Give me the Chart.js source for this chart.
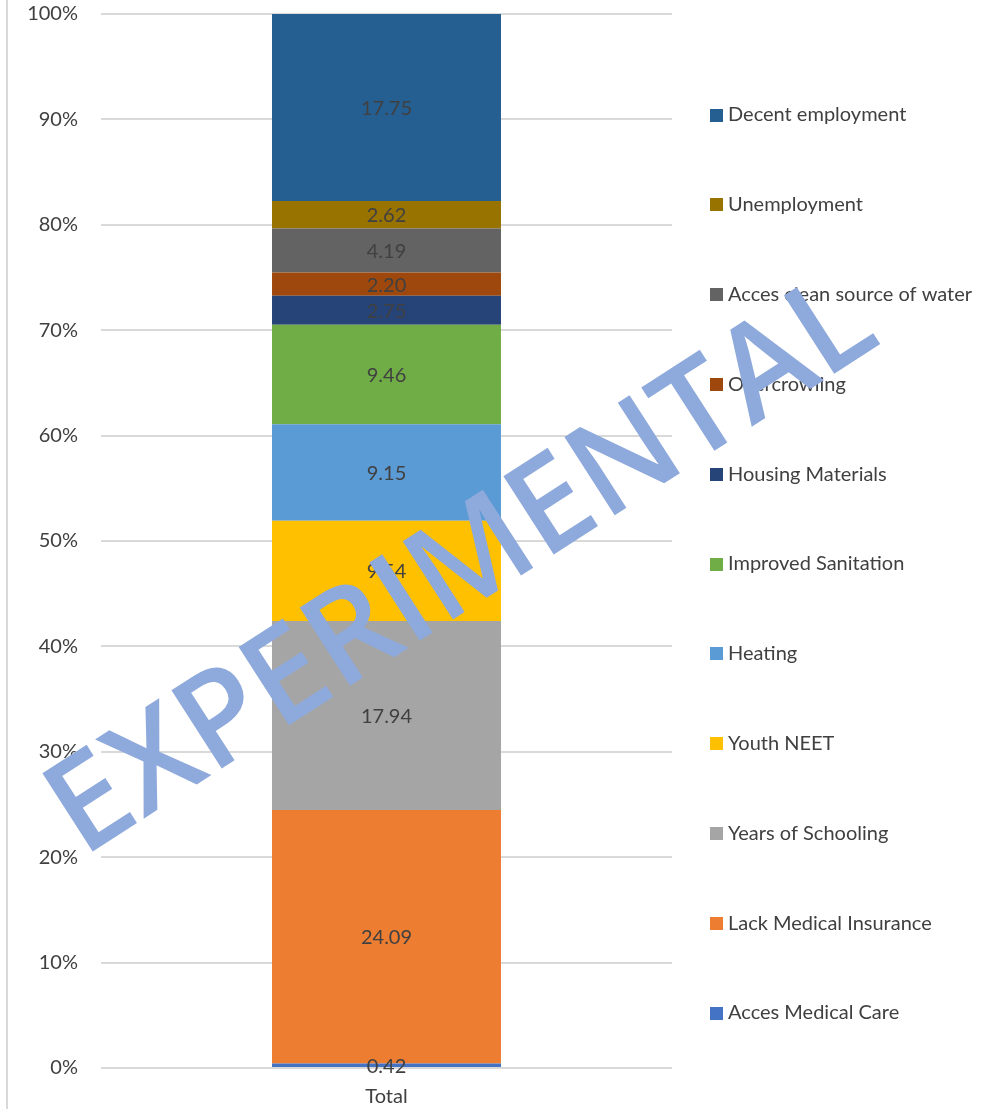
<!DOCTYPE html>
<html>
<head>
<meta charset="utf-8">
<script src="https://cdn.jsdelivr.net/npm/chart.js@4.4.1/dist/chart.umd.min.js"></script>
<style>
  html, body { margin: 0; padding: 0; background: #ffffff; }
  #wrap { position: relative; width: 981px; height: 1109px; }
  canvas { display: block; }
</style>
</head>
<body>
<div id="wrap"><canvas id="c" width="981" height="1109"></canvas></div>
<script>
const categories = ['Total'];
const seriesNames = [
  'Acces Medical Care',
  'Lack Medical Insurance',
  'Years of Schooling',
  'Youth NEET',
  'Heating',
  'Improved Sanitation',
  'Housing Materials',
  'Overcrowling',
  'Acces clean source of water',
  'Unemployment',
  'Decent employment'
];
const seriesValues = [0.42, 24.09, 17.94, 9.54, 9.15, 9.46, 2.75, 2.20, 4.19, 2.62, 17.75];
const seriesColors = ['#4472C4', '#ED7D31', '#A5A5A5', '#FFC000', '#5B9BD5', '#70AD47',
                      '#264478', '#9E480E', '#636363', '#997300', '#255E91'];
const yTickValues = [0, 10, 20, 30, 40, 50, 60, 70, 80, 90, 100];
const watermarkText = 'EXPERIMENTAL';

const FONT = 'Lato';
const TEXT_COLOR = '#404040';

const total = seriesValues.reduce((a, b) => a + b, 0);
const datasets = seriesNames.map((name, i) => ({
  label: name,
  data: [seriesValues[i] / total * 100],
  rawValue: seriesValues[i],
  backgroundColor: seriesColors[i],
  borderWidth: 0,
  stack: 's'
}));

const frameLine = {
  id: 'frameLine',
  beforeDraw(chart) {
    const ctx = chart.ctx;
    ctx.save();
    ctx.fillStyle = '#d9d9d9';
    ctx.fillRect(6, 0, 2, chart.height);
    ctx.restore();
  }
};

const valueLabels = {
  id: 'valueLabels',
  afterDatasetsDraw(chart) {
    const ctx = chart.ctx;
    ctx.save();
    ctx.font = '20px ' + FONT;
    ctx.fillStyle = TEXT_COLOR;
    ctx.textAlign = 'center';
    ctx.textBaseline = 'middle';
    chart.data.datasets.forEach((ds, i) => {
      const meta = chart.getDatasetMeta(i);
      meta.data.forEach(el => {
        const cy = (el.y + el.base) / 2 + 1;
        ctx.fillText(ds.rawValue.toFixed(2), el.x, cy);
      });
    });
    ctx.restore();
  }
};

const sideLegend = {
  id: 'sideLegend',
  afterDraw(chart) {
    const ctx = chart.ctx;
    const ds = chart.data.datasets;
    const n = ds.length;
    const firstY = 115, step = 89.8;
    ctx.save();
    ctx.font = '20px ' + FONT;
    ctx.textBaseline = 'middle';
    ctx.textAlign = 'left';
    for (let k = 0; k < n; k++) {
      const d = ds[n - 1 - k];
      const y = firstY + k * step;
      ctx.fillStyle = d.backgroundColor;
      ctx.fillRect(710, Math.round(y - 6.5), 13, 13);
      ctx.fillStyle = TEXT_COLOR;
      ctx.fillText(d.label, 728, y);
    }
    ctx.restore();
  }
};

const watermark = {
  id: 'watermark',
  afterDraw(chart) {
    const ctx = chart.ctx;
    ctx.save();
    ctx.translate(483, 600);
    ctx.rotate(-32.8 * Math.PI / 180);
    ctx.font = '600 130px "Open Sans"';
    ctx.fillStyle = '#8EA9DB';
    ctx.textAlign = 'center';
    ctx.textBaseline = 'alphabetic';
    ctx.fillText(watermarkText, 0, 0);
    ctx.restore();
  }
};

new Chart(document.getElementById('c'), {
  type: 'bar',
  data: { labels: categories, datasets: datasets },
  options: {
    responsive: false,
    animation: false,
    devicePixelRatio: 1,
    layout: { padding: { top: 14, right: 309, bottom: 0, left: 0 } },
    categoryPercentage: 1,
    barPercentage: 0.401,
    plugins: { legend: { display: false }, tooltip: { enabled: false } },
    scales: {
      x: {
        stacked: true,
        afterFit(scale) { scale.height = 41; scale.paddingLeft = 0; scale.paddingRight = 0; },
        grid: { display: false },
        border: { display: false },
        ticks: { color: TEXT_COLOR, font: { family: FONT, size: 20 }, padding: 9 }
      },
      y: {
        stacked: true,
        min: 0,
        max: 100,
        afterFit(scale) { scale.width = 101; scale.paddingTop = 0; scale.paddingBottom = 0; },
        afterBuildTicks(scale) { scale.ticks = yTickValues.map(v => ({ value: v })); },
        grid: { color: '#d9d9d9', lineWidth: 2, drawTicks: false },
        border: { display: false },
        ticks: {
          color: TEXT_COLOR,
          font: { family: FONT, size: 20 },
          padding: 23,
          callback: v => v + '%'
        }
      }
    }
  },
  plugins: [frameLine, valueLabels, sideLegend, watermark]
});
</script>
</body>
</html>
